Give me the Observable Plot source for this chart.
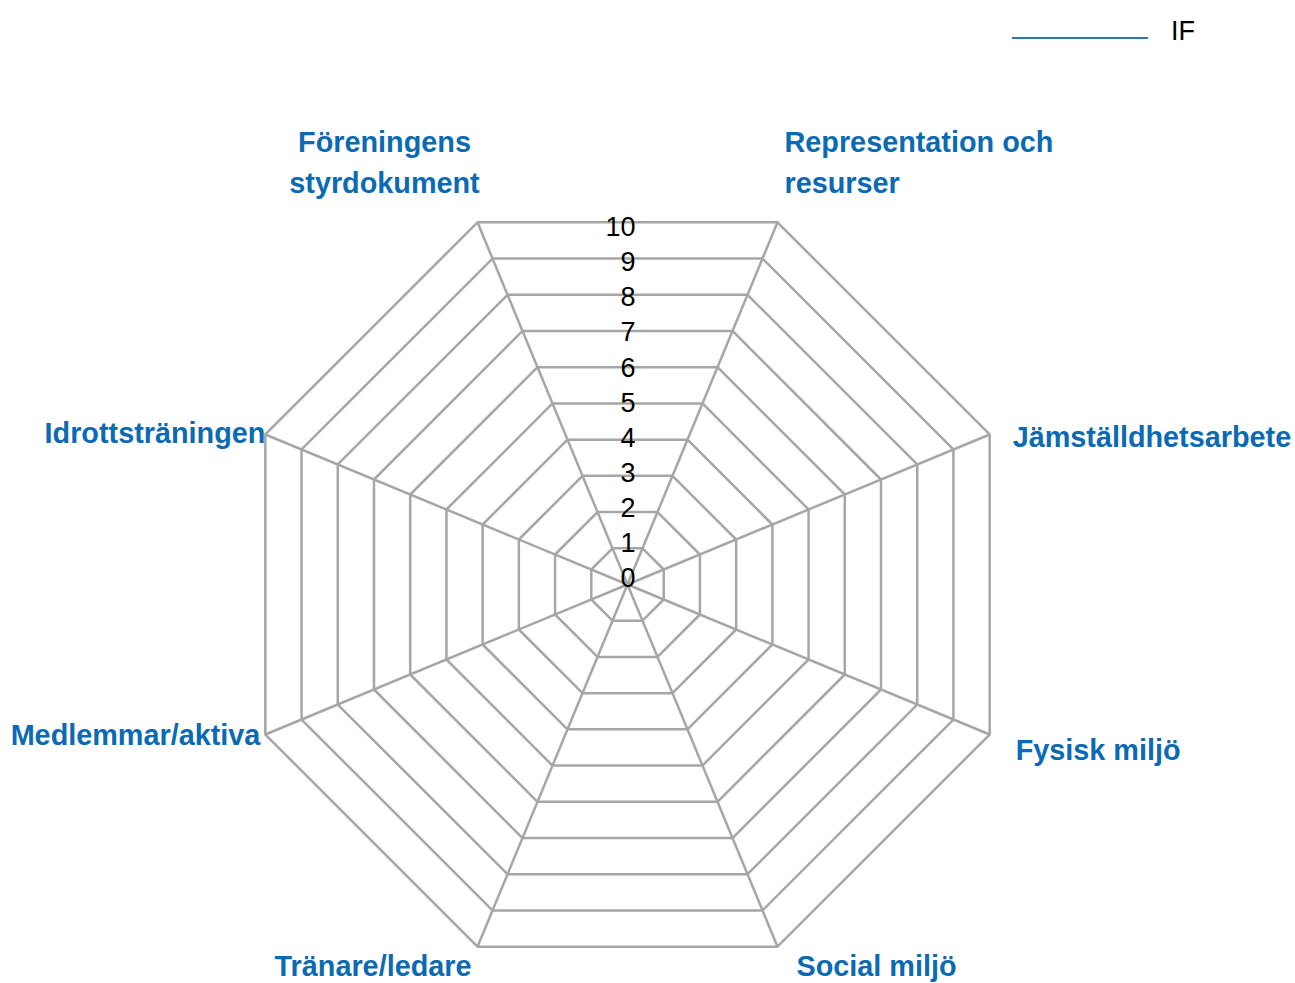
<!DOCTYPE html>
<html>
<head>
<meta charset="utf-8">
<script src="https://cdn.jsdelivr.net/npm/d3@7"></script>
<script src="https://cdn.jsdelivr.net/npm/@observablehq/plot@0.6"></script>
<style>
  html, body { margin: 0; padding: 0; background: #fff; }
  body { font-family: "Liberation Sans", Arial, sans-serif; }
  #wrap { position: relative; width: 1295px; height: 983px; overflow: hidden; }
  #chart { position: absolute; left: 0; top: 0; }
  #legend { position: absolute; left: 1012px; top: 13px; display: flex; align-items: center; height: 36px; }
  #legend .swatch { width: 136px; height: 0; border-top: 2px solid #2E75B6; margin-top: 14px; }
  #legend .name { margin-left: 23px; font-size: 27px; color: #000; }
</style>
</head>
<body>
<div id="wrap">
  <div id="chart"></div>
  <div id="legend"><div class="swatch"></div><div class="name" id="legendName"></div></div>
</div>
<script>
// ---- data ----
const categories = [
  "Representation och\nresurser",
  "Jämställdhetsarbete",
  "Fysisk miljö",
  "Social miljö",
  "Tränare/ledare",
  "Medlemmar/aktiva",
  "Idrottsträningen",
  "Föreningens\nstyrdokument"
];
const seriesName = "IF";
const ifValues = [null, null, null, null, null, null, null, null]; // no values plotted
const levels = [0, 1, 2, 3, 4, 5, 6, 7, 8, 9, 10];
const tickLabels = ["0", "1", "2", "3", "4", "5", "6", "7", "8", "9", "10"];

// ---- layout (not data) ----
const W = 1295, H = 983;
const cx = 627, cy = 584, pxPerUnit = 39.2;
const labelLayout = [
  {anchor: "start",  dx: 7,   dy: -63},
  {anchor: "start",  dx: 23,  dy: -1},
  {anchor: "start",  dx: 26,  dy: 12},
  {anchor: "start",  dx: 19,  dy: 16},
  {anchor: "end",    dx: -6,  dy: 16},
  {anchor: "end",    dx: -5,  dy: -3},
  {anchor: "end",    dx: 0,   dy: -5},
  {anchor: "middle", dx: -93, dy: -63}
];
const gridColor = "#A6A6A6";
const labelColor = "#0B6AB4";
const maxLevel = d3.max(levels);

document.getElementById("legendName").textContent = seriesName;

const deg = Math.PI / 180;
const ang = i => (22.5 + 45 * i) * deg;
const px = (r, i) => r * Math.sin(ang(i));
const py = (r, i) => r * Math.cos(ang(i));

const ringPts = levels.flatMap(l =>
  [...categories.map((c, i) => ({level: l, x: px(l, i), y: py(l, i)})),
   {level: l, x: px(l, 0), y: py(l, 0)}]);
const spokes = categories.map((c, i) => ({x2: px(maxLevel, i), y2: py(maxLevel, i)}));
const seriesPts = categories.map((c, i) => ({
  c, v: ifValues[i],
  x: ifValues[i] == null ? NaN : px(ifValues[i], i),
  y: ifValues[i] == null ? NaN : py(ifValues[i], i)
}));

const labelMarks = categories.map((c, i) => Plot.text([c], {
  x: () => px(maxLevel, i),
  y: () => py(maxLevel, i),
  text: d => d,
  textAnchor: labelLayout[i].anchor,
  lineAnchor: "middle",
  lineHeight: 1.43,
  dx: labelLayout[i].dx,
  dy: labelLayout[i].dy,
  fill: labelColor,
  fontSize: 28.8,
  fontWeight: "bold",
  fontFamily: "Liberation Sans, Arial, sans-serif"
}));

const cos225 = Math.cos(22.5 * deg);
const tickSpread = 0.969; // tick labels sit slightly tighter than rings

const plot = Plot.plot({
  width: W, height: H,
  margin: 0,
  x: {domain: [-cx / pxPerUnit, (W - cx) / pxPerUnit], range: [0, W], axis: null},
  y: {domain: [-(H - cy) / pxPerUnit, cy / pxPerUnit], range: [H, 0], axis: null},
  style: {background: "#fff", fontFamily: "Liberation Sans, Arial, sans-serif"},
  marks: [
    Plot.link(spokes, {x1: 0, y1: 0, x2: "x2", y2: "y2", stroke: gridColor, strokeWidth: 2.5}),
    Plot.line(ringPts, {x: "x", y: "y", z: "level", stroke: gridColor, strokeWidth: 2.5, curve: "linear"}),
    Plot.line(seriesPts, {x: "x", y: "y", stroke: "#2E75B6", strokeWidth: 2, strokeLinecap: "butt"}),
    Plot.text(levels, {
      x: 0,
      y: l => l * cos225 * tickSpread,
      text: (l, i) => tickLabels[i],
      textAnchor: "end",
      dx: 8,
      dy: -6,
      fill: "#000",
      fontSize: 27,
      fontFamily: "Liberation Sans, Arial, sans-serif"
    }),
    ...labelMarks
  ]
});
document.getElementById("chart").appendChild(plot);
</script>
</body>
</html>
